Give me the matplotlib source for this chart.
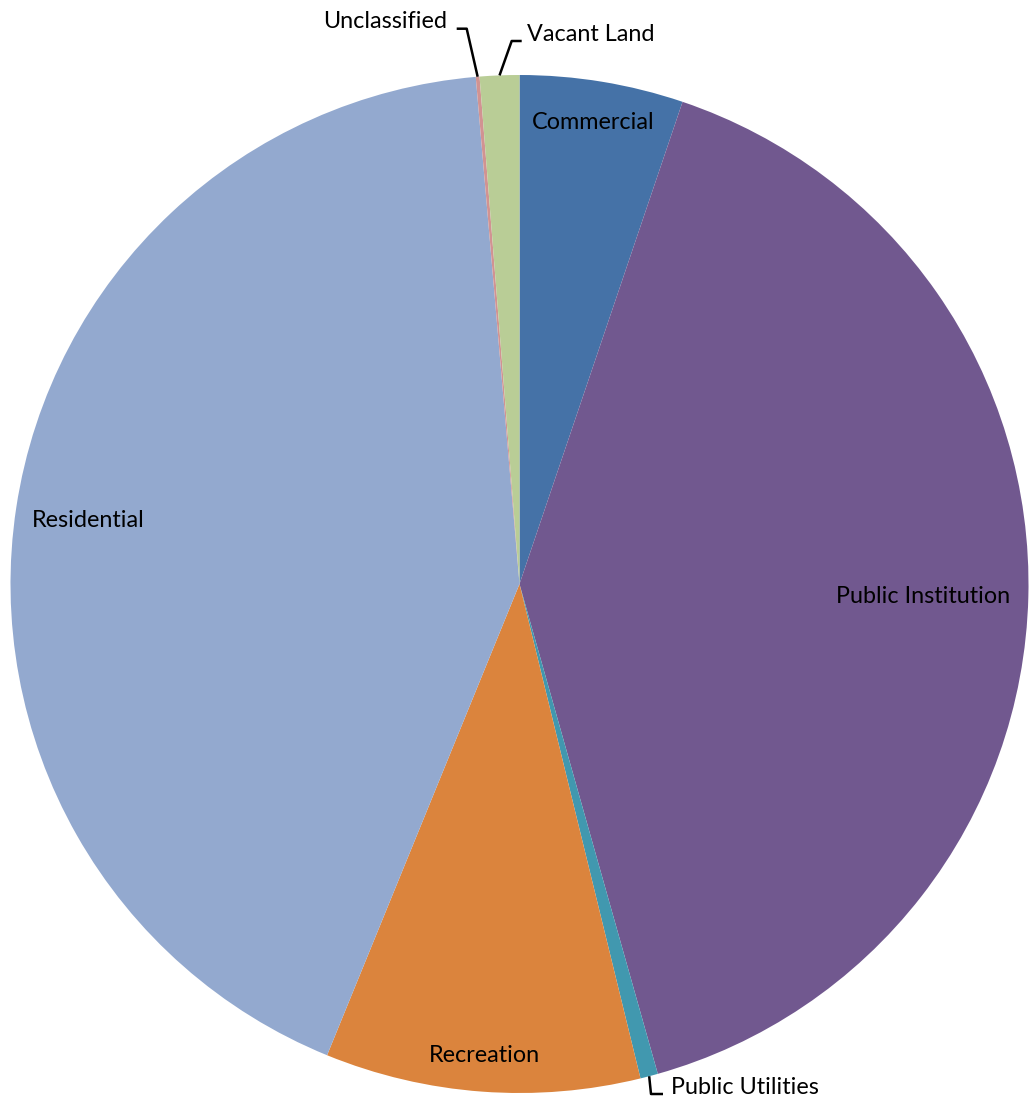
import numpy as np
import matplotlib
matplotlib.use("Agg")
import matplotlib.pyplot as plt

categories = ["Commercial", "Public Institution", "Public Utilities", "Recreation",
              "Residential", "Unclassified", "Vacant Land"]
shares = [5.19, 40.43, 0.56, 9.99, 42.46, 0.12, 1.25]
colors = ["#4572A7", "#71588F", "#4198AF", "#DB843D", "#93A9CF", "#D19392", "#B9CD96"]

W, H = 1029, 1102
fig = plt.figure(figsize=(W / 100, H / 100), dpi=100)
ax = fig.add_axes([0, 0, 1, 1])
cx, cy, r = 519.5, H - 584, 509

wedges, _ = ax.pie(shares, colors=colors, startangle=90, counterclock=False,
                   center=(cx, cy), radius=r, wedgeprops=dict(linewidth=0))
ax.set_xlim(0, W)
ax.set_ylim(0, H)
ax.set_aspect("equal")
ax.axis("off")

plt.rcParams["font.family"] = ["Lato", "DejaVu Sans"]
fs = 16.8

def Y(y):
    return H - y

# inside labels (center x, baseline y in image pixels)
inside = {
    "Commercial": (593, 129),
    "Public Institution": (923, 603),
    "Residential": (88, 527),
    "Recreation": (484, 1062),
}
for name, (x, y) in inside.items():
    ax.text(x, Y(y), name, ha="center", va="baseline", fontsize=fs, color="black")

def edge_point(i, frac=1.0):
    w = wedges[i]
    th = np.deg2rad((w.theta1 + w.theta2) / 2)
    return cx + r * frac * np.cos(th), cy + r * frac * np.sin(th)

lw = 1.8
# Unclassified
i = categories.index("Unclassified")
x0, y0 = edge_point(i)
ax.plot([x0, 466.7, 456.7], [y0, Y(28.7), Y(28.7)], color="black", lw=lw, solid_capstyle="butt")
ax.text(385, Y(28.3), "Unclassified", ha="center", va="baseline", fontsize=fs)
# Vacant Land
i = categories.index("Vacant Land")
x0, y0 = edge_point(i)
ax.plot([x0, 511.7, 521.7], [y0, Y(41), Y(41)], color="black", lw=lw, solid_capstyle="butt")
ax.text(591, Y(40.7), "Vacant Land", ha="center", va="baseline", fontsize=fs)
# Public Utilities
i = categories.index("Public Utilities")
x0, y0 = edge_point(i)
ax.plot([x0, 651, 663], [y0, Y(1094), Y(1094)], color="black", lw=lw, solid_capstyle="butt")
ax.text(744.5, Y(1094.3), "Public Utilities", ha="center", va="baseline", fontsize=fs)

fig.savefig("out.png", dpi=100)
